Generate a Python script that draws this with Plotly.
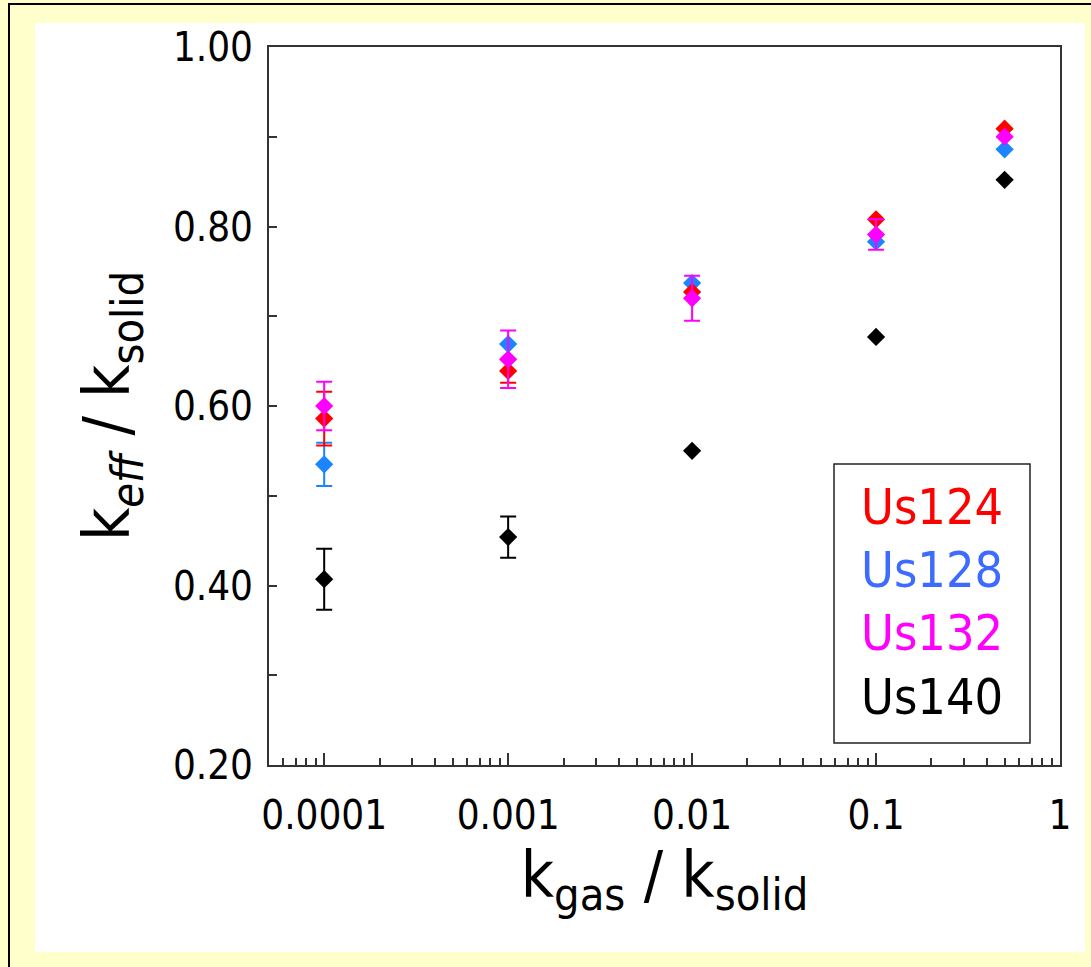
import plotly.graph_objects as go

# ---- data ----
x_vals = [0.0001, 0.001, 0.01, 0.1, 0.5]
series_names = ["Us124", "Us128", "Us132", "Us140"]
us124 = [0.586, 0.639, 0.727, 0.808, 0.909]
us124_err = [0.030, 0.013, 0.0, 0.0, 0.0]
us128 = [0.535, 0.669, 0.737, 0.783, 0.886]
us128_err = [0.024, 0.0, 0.0, 0.0, 0.0]
us132 = [0.600, 0.652, 0.720, 0.791, 0.900]
us132_err = [0.027, 0.032, 0.025, 0.017, 0.0]
us140 = [0.407, 0.454, 0.550, 0.677, 0.852]
us140_err = [0.034, 0.023, 0.0, 0.0, 0.0]

x_tickvals = [0.0001, 0.001, 0.01, 0.1, 1]
x_ticktext = ["0.0001", "0.001", "0.01", "0.1", "1"]
y_tickvals = [0.2, 0.4, 0.6, 0.8, 1.0]
y_ticktext = ["0.20", "0.40", "0.60", "0.80", "1.00"]
y_minor = [0.3, 0.5, 0.7, 0.9]

marker_colors = {"Us124": "#FF0000", "Us128": "#1A85FF", "Us132": "#FF00FF", "Us140": "#000000"}
legend_colors = {"Us124": "#FF0000", "Us128": "#3D6BFF", "Us132": "#FF00FF", "Us140": "#000000"}

FONT = "DejaVu Sans Condensed, Liberation Sans Narrow, DejaVu Sans"

fig = go.Figure()
data = {"Us124": (us124, us124_err), "Us128": (us128, us128_err),
        "Us132": (us132, us132_err), "Us140": (us140, us140_err)}
for name in ["Us128", "Us124", "Us132", "Us140"]:
    yv, ev = data[name]
    c = marker_colors[name]
    fig.add_trace(go.Scatter(
        x=x_vals, y=yv, mode="markers", name=name,
        marker=dict(symbol="diamond", size=14, color=c, line=dict(width=0)),
        error_y=dict(type="data", array=[e if e > 0 else None for e in ev],
                     visible=True, thickness=2, width=8, color=c),
        showlegend=False,
    ))

x_minor = [m * 10 ** d for d in range(-5, 0) for m in range(2, 10)]
x_minor = [v for v in x_minor if 5e-5 <= v <= 1]

fig.update_xaxes(
    type="log", range=[-4.3, 0],
    tickmode="array", tickvals=x_tickvals, ticktext=x_ticktext,
    ticks="inside", ticklen=12, tickwidth=1.5, tickcolor="#333",
    minor=dict(tickmode="array", tickvals=x_minor, ticks="inside", ticklen=7,
               tickwidth=1.5, tickcolor="#333", showgrid=False),
    showline=True, linecolor="#333", linewidth=2, mirror=True,
    showgrid=False, zeroline=False,
    tickfont=dict(family=FONT, size=40, color="black"),
    ticklabelstandoff=14,
    title=dict(text="k<sub>gas</sub> / k<sub>solid</sub>",
               font=dict(family=FONT, size=64, color="black"), standoff=14),
)
fig.update_yaxes(
    range=[0.2, 1.0],
    tickmode="array", tickvals=y_tickvals, ticktext=y_ticktext,
    ticks="inside", ticklen=8, tickwidth=1.5, tickcolor="#333",
    minor=dict(tickmode="array", tickvals=y_minor, ticks="inside", ticklen=8,
               tickwidth=1.5, tickcolor="#333", showgrid=False),
    showline=True, linecolor="#333", linewidth=2, mirror=True,
    showgrid=False, zeroline=False,
    tickfont=dict(family=FONT, size=40, color="black"),
    ticklabelstandoff=6,
    title=dict(text="k<sub><i>eff</i></sub> / k<sub>solid</sub>",
               font=dict(family=FONT, size=64, color="black"), standoff=22),
)

L, R, T, B = 269, 31, 47, 202
W, H = 1091, 967
pw, ph = W - L - R, H - T - B

def px_x(p):
    return (p - L) / pw

def px_y(p):
    return (H - B - p) / ph

shapes = [
    dict(type="rect", xref="paper", yref="paper", layer="below",
         x0=px_x(35), x1=px_x(1085), y0=px_y(952), y1=px_y(23),
         fillcolor="white", line=dict(width=0)),
    dict(type="line", xref="paper", yref="paper",
         x0=px_x(8), x1=px_x(1091), y0=px_y(4), y1=px_y(4),
         line=dict(color="black", width=2)),
    dict(type="line", xref="paper", yref="paper",
         x0=px_x(9), x1=px_x(9), y0=px_y(4), y1=px_y(967),
         line=dict(color="black", width=2)),
    dict(type="rect", xref="paper", yref="paper",
         x0=px_x(834), x1=px_x(1030), y0=px_y(743), y1=px_y(464),
         fillcolor="white", line=dict(color="#222", width=1.5)),
]
annotations = []
legend_y = [507, 570, 633, 697]
for name, yy in zip(series_names, legend_y):
    annotations.append(dict(
        xref="paper", yref="paper", x=px_x(932), y=px_y(yy),
        text=name, showarrow=False, xanchor="center", yanchor="middle",
        font=dict(family=FONT, size=50, color=legend_colors[name]),
    ))

fig.update_layout(
    width=W, height=H,
    margin=dict(l=L, r=R, t=T, b=B, autoexpand=False),
    paper_bgcolor="#FFFFCC", plot_bgcolor="white",
    shapes=shapes, annotations=annotations,
    showlegend=False,
)

fig.write_html("out.html")
